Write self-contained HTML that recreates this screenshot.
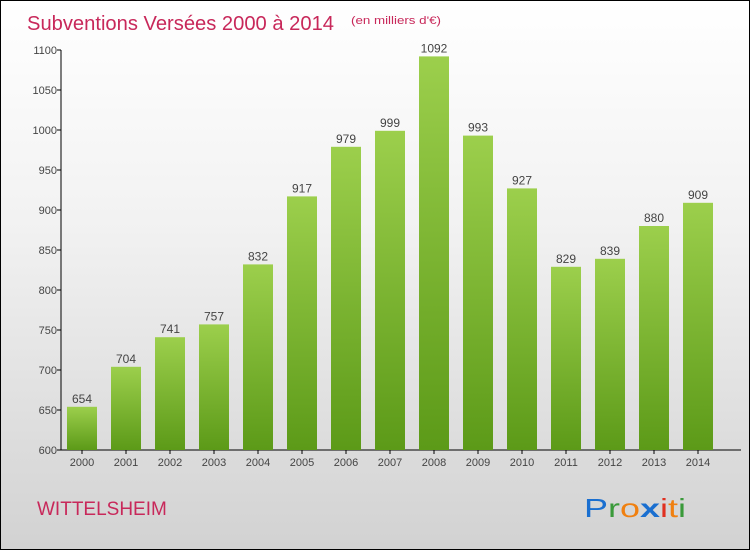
<!DOCTYPE html>
<html><head><meta charset="utf-8"><style>
body{margin:0;}
#wrap{position:relative;width:748px;height:548px;border:1px solid #000;background:linear-gradient(#ffffff 0%,#f2f2f2 40%,#d2d2d2 100%);overflow:hidden;font-family:"Liberation Sans",sans-serif;}
svg{position:absolute;left:0;top:0;}
</style></head><body>
<div id="wrap">
<svg id="chart" width="748" height="548">
<defs><linearGradient id="bg" x1="0" y1="0" x2="0" y2="1"><stop offset="0" stop-color="#9ccf4c"/><stop offset="1" stop-color="#5c9a18"/></linearGradient></defs>
<text x="26" y="29" font-size="20" fill="#c8285a" textLength="307" lengthAdjust="spacingAndGlyphs">Subventions Versées 2000 à 2014</text>
<text x="350" y="23" font-size="11" fill="#c8285a" textLength="90" lengthAdjust="spacingAndGlyphs">(en milliers d'€)</text>
<text x="36" y="514" font-size="19" fill="#c8285a">WITTELSHEIM</text>
<g font-size="26" font-family="'Liberation Sans',sans-serif">
<text x="583" y="516" textLength="102" lengthAdjust="spacingAndGlyphs"><tspan fill="#1a6fd0">P</tspan><tspan fill="#3a9a3a">r</tspan><tspan fill="#f08010">o</tspan><tspan fill="#1a6fd0" font-weight="bold">x</tspan><tspan fill="#e03020">i</tspan><tspan fill="#f08010">t</tspan><tspan fill="#3a9a3a">i</tspan></text>
</g>
<g id="axes"></g><g id="bars"></g>
</svg>
</div>
<script>
const years=["2000","2001","2002","2003","2004","2005","2006","2007","2008","2009","2010","2011","2012","2013","2014"];
const values=[654,704,741,757,832,917,979,999,1092,993,927,829,839,880,909];
const yTicks=[600,650,700,750,800,850,900,950,1000,1050,1100];
const NS="http://www.w3.org/2000/svg";
const y0=449,yScale=0.8,yMin=600;
function y(v){return y0-(v-yMin)*yScale;}
function x(i){return 81+i*44;}
function el(t,a,p){const e=document.createElementNS(NS,t);for(const k in a)e.setAttribute(k,a[k]);p.appendChild(e);return e;}
const ax=document.getElementById('axes'),bars=document.getElementById('bars');
const yl=el('line',{x1:60,y1:y(1100),x2:60,y2:y0,stroke:'#000'},ax);


const xl=el('line',{x1:60,y1:y0,x2:740,y2:y0,stroke:'#000'},ax);


yTicks.forEach(v=>{
 el('line',{x1:56,y1:y(v),x2:60,y2:y(v),stroke:'#000'},ax);
 const t=el('text',{x:56,y:y(v)+4,'font-size':11,fill:'#444','text-anchor':'end'},ax);
 t.textContent=v;
 
 
});
years.forEach((yr,i)=>{
 const cx=x(i);
 el('line',{x1:cx,y1:y0,x2:cx,y2:y0+4,stroke:'#000'},ax);
 const t=el('text',{x:cx,y:y0+16,'font-size':11,fill:'#444','text-anchor':'middle'},ax);
 t.textContent=yr;
 
 
 const r=el('rect',{x:cx-15,y:y(values[i]),width:30,height:y0-y(values[i]),fill:'url(#bg)'},bars);
 
 
 const l=el('text',{x:cx,y:y(values[i])-4,'font-size':12,fill:'#444','text-anchor':'middle'},bars);
 l.textContent=values[i];
 
 
});
</script>
</body></html>
